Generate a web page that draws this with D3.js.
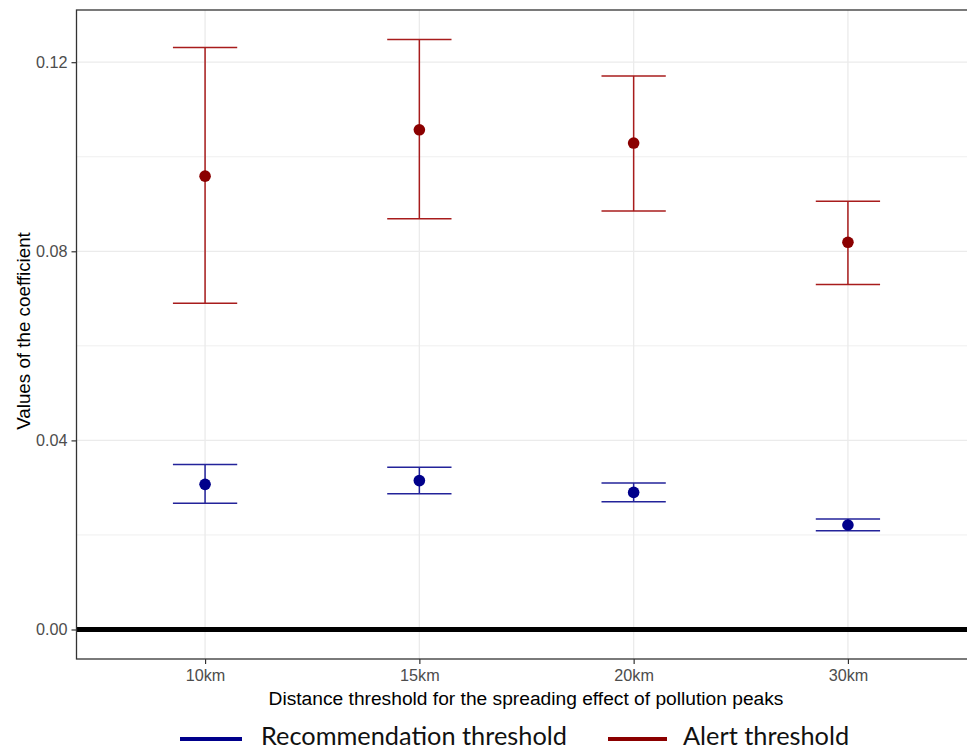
<!DOCTYPE html>
<html>
<head>
<meta charset="utf-8">
<script src="https://cdn.jsdelivr.net/npm/d3@7"></script>
<style>
  html, body { margin: 0; padding: 0; background: #fff; overflow: hidden; }
  svg { display: block; }
</style>
</head>
<body>
<svg id="chart" width="967" height="753"></svg>
<script>
// Distance thresholds (x categories)
const categories = ["10km", "15km", "20km", "30km"];

// Alert threshold: estimate with lower / upper confidence bounds
const alertEstimate = [0.0959, 0.1057, 0.1029, 0.0819];
const alertLower    = [0.0690, 0.0869, 0.0885, 0.0730];
const alertUpper    = [0.1231, 0.1248, 0.1171, 0.0906];

// Recommendation threshold: estimate with lower / upper confidence bounds
const recoEstimate = [0.0307, 0.0315, 0.0290, 0.0221];
const recoLower    = [0.0267, 0.0287, 0.0270, 0.0209];
const recoUpper    = [0.0349, 0.0343, 0.0310, 0.0234];

// Axis ticks
const yTicksMajor = [0, 0.04, 0.08, 0.12];
const yTicksMinor = [0.02, 0.06, 0.10];

const seriesNames = ["Recommendation threshold", "Alert threshold"];

const series = [
  { name: seriesNames[0], est: recoEstimate, lo: recoLower, hi: recoUpper,
    point: "#00008b", bar: "#23239a", key: "#00008b" },
  { name: seriesNames[1], est: alertEstimate, lo: alertLower, hi: alertUpper,
    point: "#8b0000", bar: "#a81c1c", key: "#8b0000" }
];

const svg = d3.select("#chart");
const sans = "'Liberation Sans', Arial, sans-serif";

// Panel geometry
const panel = { left: 76.5, top: 10, bottom: 659, right: 976.5 };

// y domain: data range (including the zero reference line) expanded by 5%
const allVals = [0].concat(alertLower, alertUpper, recoLower, recoUpper);
const yMin = d3.min(allVals), yMax = d3.max(allVals);
const pad = (yMax - yMin) * 0.05;

const y = d3.scaleLinear()
  .domain([yMin - pad, yMax + pad])
  .range([panel.bottom, panel.top]);

const x = d3.scalePoint()
  .domain(categories)
  .range([panel.left, panel.right])
  .padding(0.6);

const step = x.step();
const capHalf = step * 0.15;

// Grid lines
const grid = svg.append("g");
grid.selectAll("line.minor").data(yTicksMinor).join("line")
  .attr("x1", panel.left).attr("x2", panel.right)
  .attr("y1", d => y(d)).attr("y2", d => y(d))
  .attr("stroke", "#ebebeb").attr("stroke-width", 0.8);
grid.selectAll("line.majorY").data(yTicksMajor).join("line")
  .attr("x1", panel.left).attr("x2", panel.right)
  .attr("y1", d => y(d)).attr("y2", d => y(d))
  .attr("stroke", "#ebebeb").attr("stroke-width", 1.3);
grid.selectAll("line.majorX").data(categories).join("line")
  .attr("x1", d => x(d)).attr("x2", d => x(d))
  .attr("y1", panel.top).attr("y2", panel.bottom)
  .attr("stroke", "#ebebeb").attr("stroke-width", 1.3);

// Zero reference line
svg.append("line")
  .attr("x1", panel.left).attr("x2", panel.right)
  .attr("y1", y(0)).attr("y2", y(0))
  .attr("stroke", "#000").attr("stroke-width", 5);

// Error bars and points
series.forEach(s => {
  const g = svg.append("g");
  const rows = categories.map((c, i) => ({ c, est: s.est[i], lo: s.lo[i], hi: s.hi[i] }));
  g.selectAll("line.v").data(rows).join("line")
    .attr("x1", d => x(d.c)).attr("x2", d => x(d.c))
    .attr("y1", d => y(d.lo)).attr("y2", d => y(d.hi))
    .attr("stroke", s.bar).attr("stroke-width", 1.5);
  g.selectAll("line.hi").data(rows).join("line")
    .attr("x1", d => x(d.c) - capHalf).attr("x2", d => x(d.c) + capHalf)
    .attr("y1", d => y(d.hi)).attr("y2", d => y(d.hi))
    .attr("stroke", s.bar).attr("stroke-width", 1.5);
  g.selectAll("line.lo").data(rows).join("line")
    .attr("x1", d => x(d.c) - capHalf).attr("x2", d => x(d.c) + capHalf)
    .attr("y1", d => y(d.lo)).attr("y2", d => y(d.lo))
    .attr("stroke", s.bar).attr("stroke-width", 1.5);
  g.selectAll("circle").data(rows).join("circle")
    .attr("cx", d => x(d.c)).attr("cy", d => y(d.est))
    .attr("r", 5.8).attr("fill", s.point);
});

// Panel border
svg.append("rect")
  .attr("x", panel.left).attr("y", panel.top)
  .attr("width", panel.right - panel.left).attr("height", panel.bottom - panel.top)
  .attr("fill", "none").attr("stroke", "#333").attr("stroke-width", 1.3);

// Axes
const yAxis = d3.axisLeft(y).tickValues(yTicksMajor)
  .tickFormat(d3.format(".2f")).tickSizeInner(5).tickSizeOuter(0).tickPadding(4);
const gy = svg.append("g").attr("transform", `translate(${panel.left},0)`).call(yAxis);
gy.select(".domain").remove();
gy.selectAll(".tick line").attr("stroke", "#333").attr("stroke-width", 1.2);
gy.selectAll(".tick text")
  .attr("fill", "#4d4d4d").style("font-family", sans)
  .style("font-size", "16.2px");

const xAxis = d3.axisBottom(x).tickSizeInner(5).tickSizeOuter(0).tickPadding(5);
const gx = svg.append("g").attr("transform", `translate(0,${panel.bottom})`).call(xAxis);
gx.select(".domain").remove();
gx.selectAll(".tick line").attr("stroke", "#333").attr("stroke-width", 1.2);
gx.selectAll(".tick text")
  .attr("fill", "#4d4d4d").style("font-family", sans)
  .style("font-size", "16.2px");

// Axis titles
svg.append("text")
  .attr("x", 526).attr("y", 705)
  .attr("text-anchor", "middle")
  .style("font-family", sans)
  .style("font-size", "19.2px").attr("fill", "#000")
  .text("Distance threshold for the spreading effect of pollution peaks");

svg.append("text")
  .attr("transform", "translate(30,331) rotate(-90)")
  .attr("text-anchor", "middle")
  .style("font-family", sans)
  .style("font-size", "18.8px").attr("fill", "#000")
  .text("Values of the coefficient");

// Legend
const legendItems = [
  { s: series[0], x1: 180, x2: 242, tx: 261 },
  { s: series[1], x1: 608, x2: 667, tx: 683 }
];
const lg = svg.append("g");
legendItems.forEach(it => {
  lg.append("line")
    .attr("x1", it.x1).attr("x2", it.x2).attr("y1", 739).attr("y2", 739)
    .attr("stroke", it.s.key).attr("stroke-width", 4);
  lg.append("text")
    .attr("class", "legend-label")
    .attr("x", it.tx).attr("y", 745)
    .style("font-family", "Lato, 'Open Sans', sans-serif")
    .style("font-size", "24px").attr("fill", "#111")
    .text(it.s.name);
});
// size legend labels so the longer one spans its slot
const first = lg.select("text.legend-label").node();
const w = first.getComputedTextLength();
const fs = 24 * 306 / w;
lg.selectAll("text.legend-label").style("font-size", fs + "px");
</script>
</body>
</html>
